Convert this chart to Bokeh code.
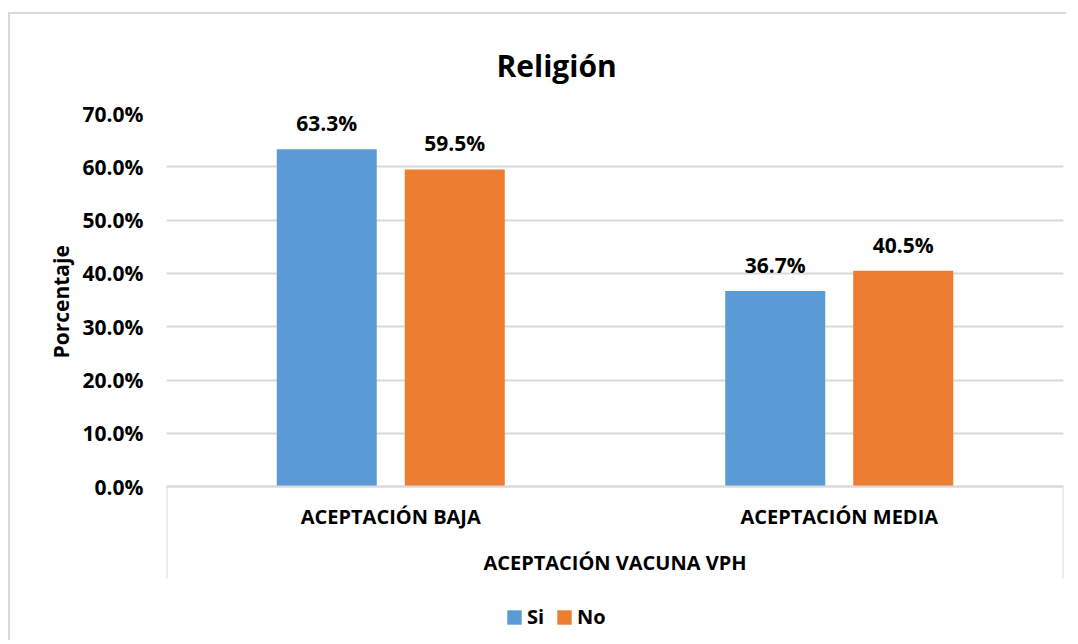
from bokeh.plotting import figure
from bokeh.models import (Range1d, FixedTicker, NumeralTickFormatter, Legend,
                          LegendItem, ColumnDataSource, Title)
from bokeh.core.properties import value
from bokeh.embed import file_html
from bokeh.resources import INLINE

# ---------------- data ----------------
chart_title = "Religión"
categories = ["ACEPTACIÓN BAJA", "ACEPTACIÓN MEDIA"]
series_names = ["Si", "No"]
si_values = [0.633, 0.367]
no_values = [0.595, 0.405]
y_ticks = [0.0, 0.1, 0.2, 0.3, 0.4, 0.5, 0.6, 0.7]
y_axis_title = "Porcentaje"
x_axis_title = "ACEPTACIÓN VACUNA VPH"
series_colors = ["#5B9BD5", "#ED7D31"]

# ---------------- style / layout ----------------
FONT = "Open Sans"
TXT = "#000000"
GRID = "#d9d9d9"
bar_w = 0.223
bar_gap = 0.0624
off = (bar_w + bar_gap) / 2

W, H = 1058, 628
B_LEFT, B_RIGHT, B_TOP, B_BOTTOM = 156, 5, 98, 2
value_px = 374            # pixel height of the 0 .. top-tick band
below_px = H - B_TOP - B_BOTTOM - value_px   # space under the zero line (inside frame)
px_per_unit = value_px / y_ticks[-1]

n = len(categories)
centers = [i + 0.5 for i in range(n)]

p = figure(width=W, height=H,
           x_range=Range1d(0, n),
           y_range=Range1d(-below_px / px_per_unit, y_ticks[-1]),
           output_backend="svg", toolbar_location=None,
           min_border_left=B_LEFT, min_border_right=B_RIGHT,
           min_border_top=B_TOP, min_border_bottom=B_BOTTOM)
p.styles = {"border-top": "2px solid #d9d9d9",
            "border-left": "2px solid #d9d9d9",
            "margin-top": "12px", "margin-left": "8px"}
p.outline_line_color = None
p.background_fill_color = "white"
p.border_fill_color = "white"

# title
p.title.text = chart_title
p.title.align = "left"
p.title.offset = 330
p.title.standoff = 56
p.title.text_font = FONT
p.title.text_font_size = "30px"
p.title.text_font_style = "bold"
p.title.text_color = TXT

# y axis
ya = p.yaxis[0]
ya.ticker = FixedTicker(ticks=y_ticks)
ya.formatter = NumeralTickFormatter(format="0.0%")
ya.axis_line_color = None
ya.major_tick_line_color = None
ya.minor_tick_line_color = None
ya.major_tick_out = 0
ya.major_label_standoff = 23
ya.major_label_text_font = FONT
ya.major_label_text_font_size = "21px"
ya.major_label_text_font_style = "bold"
ya.major_label_text_color = TXT

# y axis title, centred on the 0 .. 70 % band (not on the whole frame)
y_title = Title(text=y_axis_title, align="left", offset=282, standoff=10,
                text_font=FONT, text_font_size="21px", text_font_style="bold",
                text_color=TXT)
p.add_layout(y_title, "left")

p.ygrid.ticker = FixedTicker(ticks=y_ticks)
p.ygrid.grid_line_color = GRID
p.ygrid.grid_line_width = 2
p.xgrid.visible = False

# x axis (multi-level look: category labels + group title, edge lines as minor ticks)
xa = p.xaxis[0]
xa.fixed_location = 0
xa.ticker = FixedTicker(ticks=centers, minor_ticks=[0, n])
xa.major_label_overrides = {c: lab for c, lab in zip(centers, categories)}
xa.major_tick_line_color = None
xa.major_tick_out = 0
xa.major_tick_in = 0
xa.minor_tick_in = 0
xa.minor_tick_out = 92
xa.minor_tick_line_color = GRID
xa.minor_tick_line_width = 2
xa.axis_line_color = GRID
xa.axis_line_width = 2
xa.major_label_standoff = -76
xa.major_label_text_font = FONT
xa.major_label_text_font_size = "20px"
xa.major_label_text_font_style = "bold"
xa.major_label_text_color = TXT
xa.axis_label = x_axis_title
xa.axis_label_standoff = 16
xa.axis_label_text_font = FONT
xa.axis_label_text_font_size = "20px"
xa.axis_label_text_font_style = "bold"
xa.axis_label_text_color = TXT

# bars + data labels
renderers = []
for k, (vals, sign) in enumerate([(si_values, -1), (no_values, 1)]):
    src = ColumnDataSource(dict(
        x=[c + sign * off for c in centers],
        top=vals,
        lab=["{:.1f}%".format(v * 100) for v in vals]))
    r = p.vbar(x="x", top="top", width=bar_w, source=src,
               fill_color=series_colors[k], line_color=None)
    renderers.append(r)
    p.text(x="x", y="top", text="lab", source=src,
           text_align="center", text_baseline="alphabetic", y_offset=-26,
           text_font=value(FONT), text_font_size="21px",
           text_font_style="bold", text_color=TXT)

legend = Legend(items=[LegendItem(label=series_names[i], renderers=[renderers[i]])
                       for i in range(2)],
                orientation="horizontal", location=(339, 10),
                glyph_width=18, glyph_height=18, label_standoff=4, spacing=8,
                padding=0, margin=0, border_line_color=None,
                background_fill_alpha=0,
                label_text_font=FONT, label_text_font_size="20px",
                label_text_font_style="bold", label_text_color=TXT)
p.add_layout(legend, "center")

with open("out.html", "w", encoding="utf-8") as f:
    f.write(file_html(p, INLINE))
